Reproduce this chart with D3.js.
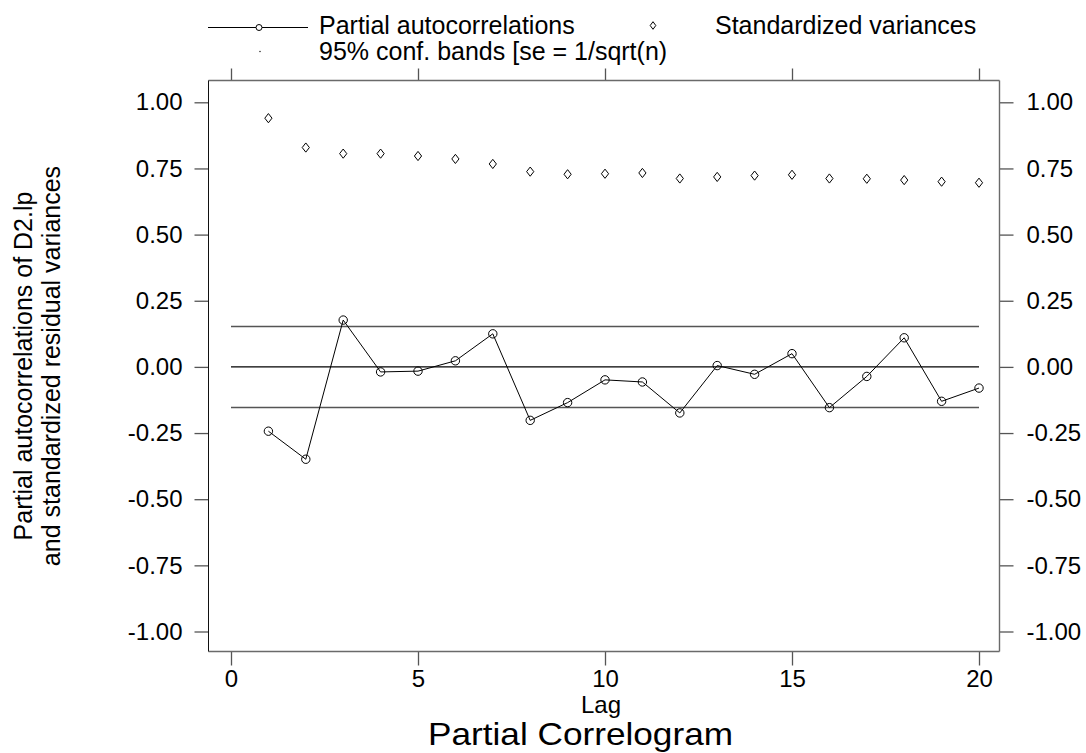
<!DOCTYPE html>
<html>
<head>
<meta charset="utf-8">
<script src="https://cdn.jsdelivr.net/npm/d3@7/dist/d3.min.js"></script>
<style>
  html, body { margin: 0; padding: 0; background: #fff; }
  svg { display: block; font-family: "Liberation Sans", Arial, Helvetica, sans-serif; }
</style>
</head>
<body>
<svg id="chart" width="1086" height="753"></svg>
<script>
// ---- Data ----
const lags = [1, 2, 3, 4, 5, 6, 7, 8, 9, 10, 11, 12, 13, 14, 15, 16, 17, 18, 19, 20];
const partialAutocorr = [-0.243, -0.349, 0.177, -0.019, -0.016, 0.023, 0.125, -0.202, -0.135, -0.049,
                         -0.057, -0.174, 0.005, -0.028, 0.050, -0.154, -0.036, 0.110, -0.130, -0.080];
const stdVariances = [0.940, 0.829, 0.806, 0.806, 0.797, 0.786, 0.767, 0.738, 0.728, 0.730,
                      0.733, 0.712, 0.718, 0.723, 0.726, 0.712, 0.711, 0.706, 0.700, 0.696];
const confBand = 0.153;
const xTickValues = [0, 5, 10, 15, 20];
const yTickValues = [-1.00, -0.75, -0.50, -0.25, 0.00, 0.25, 0.50, 0.75, 1.00];
const legendLabels = ["Partial autocorrelations", "Standardized variances", "95% conf. bands [se = 1/sqrt(n)"];
const yTitleLines = ["Partial autocorrelations of D2.lp", "and standardized residual variances"];
const xTitle = "Lag";
const chartTitle = "Partial Correlogram";

// ---- Layout ----
const frame = { left: 208.5, right: 999.5, top: 80.5, bottom: 651.5 };
const svg = d3.select("#chart");

const x = d3.scaleLinear().domain([0, 20]).range([231, 979]);
const y = d3.scaleLinear().domain([-1, 1]).range([631.5, 102.3]);
const fmt = v => d3.format(".2f")(v).replace("\u2212", "-");

const gray = "#6a6a6a";

// axes
const axLeft = svg.append("g").attr("transform", `translate(${frame.left},0)`)
  .call(d3.axisLeft(y).tickValues(yTickValues).tickFormat(fmt).tickSize(14).tickPadding(12));
const axRight = svg.append("g").attr("transform", `translate(${frame.right},0)`)
  .call(d3.axisRight(y).tickValues(yTickValues).tickFormat(fmt).tickSize(14).tickPadding(13));
const axBottom = svg.append("g").attr("transform", `translate(0,${frame.bottom})`)
  .call(d3.axisBottom(x).tickValues(xTickValues).tickFormat(d3.format("d")).tickSize(14).tickPadding(4));
const axTop = svg.append("g").attr("transform", `translate(0,${frame.top})`)
  .call(d3.axisTop(x).tickValues(xTickValues).tickFormat("").tickSize(12));

[axLeft, axRight, axBottom, axTop].forEach(g => {
  g.select(".domain").remove();
  g.selectAll(".tick line").attr("stroke", "#555").attr("stroke-width", 1.3);
  g.selectAll(".tick text").attr("fill", "#000").style("font-size", "24px")
    .style("font-family", '"Liberation Sans", Arial, sans-serif');
});

// frame
svg.append("line").attr("x1", frame.left).attr("x2", frame.right).attr("y1", frame.top).attr("y2", frame.top)
  .attr("stroke", gray).attr("stroke-width", 1.6);
svg.append("line").attr("x1", frame.left).attr("x2", frame.right).attr("y1", frame.bottom).attr("y2", frame.bottom)
  .attr("stroke", gray).attr("stroke-width", 1.6);
svg.append("line").attr("x1", frame.right).attr("x2", frame.right).attr("y1", frame.top).attr("y2", frame.bottom)
  .attr("stroke", gray).attr("stroke-width", 1.4);
svg.append("line").attr("x1", frame.left).attr("x2", frame.left).attr("y1", frame.top).attr("y2", frame.bottom)
  .attr("stroke", "#111").attr("stroke-width", 1);

// reference lines: zero and confidence bands
svg.append("line").attr("x1", x(0)).attr("x2", x(20)).attr("y1", y(0)).attr("y2", y(0))
  .attr("stroke", "#000").attr("stroke-width", 1.2);
[confBand, -confBand].forEach(v => {
  svg.append("line").attr("x1", x(0)).attr("x2", x(20)).attr("y1", y(v)).attr("y2", y(v))
    .attr("stroke", "#555").attr("stroke-width", 1.5);
});

// partial autocorrelation line + circles
const pacData = lags.map((l, i) => ({ lag: l, v: partialAutocorr[i] }));
svg.append("path").datum(pacData)
  .attr("d", d3.line().x(d => x(d.lag)).y(d => y(d.v)))
  .attr("fill", "none").attr("stroke", "#000").attr("stroke-width", 1);
svg.selectAll("circle.pac").data(pacData).join("circle").attr("class", "pac")
  .attr("cx", d => x(d.lag)).attr("cy", d => y(d.v)).attr("r", 4.2)
  .attr("fill", "none").attr("stroke", "#000").attr("stroke-width", 1);

// standardized variances diamonds
const diamond = (cx, cy, w, h) => `M${cx},${cy - h}L${cx + w},${cy}L${cx},${cy + h}L${cx - w},${cy}Z`;
const svData = lags.map((l, i) => ({ lag: l, v: stdVariances[i] }));
svg.selectAll("path.sv").data(svData).join("path").attr("class", "sv")
  .attr("d", d => diamond(x(d.lag), y(d.v), 3.6, 4.6))
  .attr("fill", "none").attr("stroke", "#000").attr("stroke-width", 1);

// legend
const lg = svg.append("g");
lg.append("line").attr("x1", 208).attr("x2", 308).attr("y1", 27.5).attr("y2", 27.5)
  .attr("stroke", "#000").attr("stroke-width", 1);
lg.append("circle").attr("cx", 259).attr("cy", 27.5).attr("r", 3).attr("fill", "#fff")
  .attr("stroke", "#000").attr("stroke-width", 1);
lg.append("text").attr("x", 319).attr("y", 33.5).style("font-size", "25px").text(legendLabels[0]);
lg.append("path").attr("d", diamond(653, 25.5, 2.8, 3.8)).attr("fill", "none")
  .attr("stroke", "#000").attr("stroke-width", 1);
lg.append("text").attr("x", 715).attr("y", 33.5).style("font-size", "25px").text(legendLabels[1]);
lg.append("circle").attr("cx", 260).attr("cy", 51.5).attr("r", 0.8).attr("fill", "#333");
lg.append("text").attr("x", 319).attr("y", 60).style("font-size", "25px").text(legendLabels[2]);

// y-axis title (two lines, rotated)
const yt = svg.append("text").attr("transform", "translate(0,366) rotate(-90)")
  .attr("text-anchor", "middle").style("font-size", "25px");
yt.append("tspan").attr("x", 0).attr("y", 32).text(yTitleLines[0]);
yt.append("tspan").attr("x", 0).attr("y", 60).text(yTitleLines[1]);

// x-axis title and chart title
svg.append("text").attr("x", 601).attr("y", 713).attr("text-anchor", "middle")
  .style("font-size", "24px").text(xTitle);
svg.append("text").attr("x", 580.5).attr("y", 745).attr("text-anchor", "middle")
  .attr("textLength", 305).attr("lengthAdjust", "spacingAndGlyphs")
  .style("font-size", "32px").text(chartTitle);
</script>
</body>
</html>
